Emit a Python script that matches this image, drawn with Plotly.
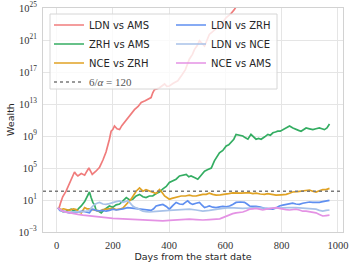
import plotly.graph_objects as go

# ---------------- data (days, log10 wealth) ----------------
LDN_AMS_DAYS = [5, 10, 14, 22, 34, 45, 55, 64, 70, 76, 88, 100, 108, 115, 121, 127, 140, 153, 165, 176, 188, 194, 200, 206, 215, 224, 232, 241, 260, 277, 290, 301, 315, 336, 342, 348, 365, 384, 392, 401, 415, 431, 445, 458, 472, 483, 490, 500, 508, 517, 526, 535, 543, 560, 579, 590, 603, 620, 632, 645, 660]
LDN_AMS_LOG = [0, 0.1, 0.6, 1.4, 2.1, 3.0, 3.9, 4.5, 4.2, 4.0, 4.3, 4.1, 4.6, 5.0, 4.6, 4.2, 4.6, 5.1, 6.0, 7.0, 8.6, 9.6, 9.8, 10.25, 9.9, 9.8, 10.3, 10.7, 11.5, 12.3, 12.7, 13.2, 13.4, 13.8, 14.4, 14.8, 15.0, 15.5, 15.2, 15.25, 15.6, 15.9, 16.6, 17.3, 18.6, 19.2, 19.8, 20.3, 20.9, 20.5, 20.25, 21.0, 21.7, 22.2, 22.75, 23.2, 23.8, 24.3, 24.8, 25.6, 26.2]

ZRH_AMS_DAYS = [5, 15, 25, 34, 45, 52, 60, 70, 80, 88, 100, 110, 117, 123, 129, 135, 141, 150, 159, 170, 180, 188, 200, 212, 224, 236, 248, 260, 271, 283, 295, 307, 318, 330, 342, 354, 366, 378, 390, 401, 413, 425, 437, 449, 461, 470, 478, 490, 502, 514, 526, 538, 550, 561, 570, 579, 591, 603, 612, 620, 630, 638, 650, 662, 670, 680, 691, 700, 709, 718, 727, 740, 751, 760, 769, 778, 786, 795, 804, 816, 828, 840, 851, 860, 869, 878, 887, 899, 911, 922, 934, 943, 952, 961, 970]
ZRH_AMS_LOG = [0, -0.3, -0.5, -0.4, -0.2, -0.15, -0.3, -0.4, 0.0, 0.25, 0.8, 1.4, 2.0, 1.3, 0.7, 0.4, -0.3, -0.4, -0.6, -0.2, 0.0, 0.25, 0.1, 0.4, 0.5, 0.9, 1.3, 1.0, 1.1, 1.5, 1.7, 1.4, 1.3, 1.5, 1.5, 1.8, 2.0, 2.4, 2.7, 3.2, 3.4, 3.6, 4.0, 4.1, 4.2, 3.9, 4.0, 3.8, 3.6, 4.1, 4.6, 4.8, 5.0, 5.9, 6.4, 6.9, 7.2, 7.75, 7.9, 8.2, 8.6, 9.2, 9.1, 9.0, 8.8, 8.6, 9.2, 8.9, 8.6, 8.7, 8.6, 8.9, 9.2, 9.1, 9.4, 9.5, 9.6, 9.6, 9.8, 10.0, 10.25, 10.0, 9.8, 9.7, 9.6, 9.8, 10.0, 9.9, 9.8, 9.9, 10.0, 9.9, 9.8, 10.0, 10.5]

NCE_ZRH_DAYS = [5, 15, 25, 34, 45, 60, 70, 76, 88, 100, 108, 117, 130, 142, 153, 165, 176, 188, 200, 212, 224, 236, 248, 256, 265, 274, 283, 295, 301, 307, 318, 330, 342, 354, 366, 372, 384, 392, 401, 410, 419, 431, 443, 458, 472, 484, 496, 508, 520, 532, 543, 555, 567, 582, 597, 612, 626, 641, 656, 671, 686, 698, 709, 724, 739, 750, 765, 780, 798, 816, 828, 839, 857, 875, 887, 899, 910, 922, 934, 946, 958, 970]
NCE_ZRH_LOG = [0, -0.2, -0.1, -0.15, -0.3, -0.1, -0.2, -0.4, -0.6, 0.05, -0.1, -0.1, -0.2, -0.3, -0.4, -0.2, -0.15, -0.1, -0.05, -0.2, -0.15, 0.0, 0.45, 0.8, 1.1, 1.6, 2.1, 2.5, 2.3, 2.1, 2.3, 2.1, 2.0, 1.8, 2.3, 2.1, 1.5, 1.3, 1.1, 1.2, 1.3, 1.4, 1.5, 1.5, 1.6, 1.5, 1.5, 1.6, 1.7, 1.7, 1.85, 1.7, 1.6, 1.65, 1.7, 1.8, 1.9, 1.85, 1.85, 1.9, 1.9, 1.8, 1.85, 1.75, 1.7, 1.8, 1.7, 1.6, 1.65, 1.7, 1.85, 2.0, 2.05, 2.1, 2.2, 2.25, 2.1, 2.0, 2.15, 2.3, 2.3, 2.45]

LDN_ZRH_DAYS = [5, 12, 22, 34, 46, 58, 70, 82, 94, 105, 117, 123, 129, 141, 153, 165, 176, 188, 200, 212, 224, 236, 253, 268, 283, 295, 307, 320, 336, 345, 354, 366, 378, 390, 401, 413, 425, 437, 449, 458, 466, 475, 484, 496, 508, 517, 526, 535, 543, 555, 567, 580, 591, 603, 615, 626, 638, 653, 668, 677, 686, 697, 709, 724, 739, 754, 769, 780, 792, 804, 816, 828, 839, 851, 863, 875, 887, 899, 910, 922, 934, 946, 958, 970]
LDN_ZRH_LOG = [0, -0.3, -0.4, -0.5, -0.6, -0.5, -0.55, -0.45, -0.4, -0.5, -0.6, -0.3, -0.15, -0.3, -0.35, -0.3, -0.4, -0.3, -0.15, -0.25, -0.2, -0.1, 0.05, 0.0, -0.05, -0.1, -0.15, -0.2, -0.3, -0.1, 0.25, 0.35, 0.45, 0.2, -0.15, 0.3, 0.7, 0.5, 0.45, 0.7, 0.9, 0.6, 0.45, 0.6, 0.7, 0.35, 0.05, 0.15, 0.25, 0.1, 0.05, 0.15, 0.2, 0.15, 0.25, 0.45, 0.7, 0.75, 0.7, 0.5, 0.25, 0.2, 0.2, 0.1, -0.05, -0.1, -0.15, 0.0, 0.25, 0.35, 0.45, 0.55, 0.6, 0.5, 0.45, 0.6, 0.7, 0.75, 0.7, 0.7, 0.7, 0.8, 0.9, 0.95]

LDN_NCE_DAYS = [5, 15, 25, 40, 55, 70, 85, 100, 115, 125, 135, 144, 153, 165, 176, 188, 200, 212, 224, 236, 248, 253, 262, 271, 280, 289, 298, 307, 318, 330, 342, 354, 378, 401, 425, 448, 472, 496, 520, 543, 567, 591, 615, 638, 662, 686, 709, 733, 757, 780, 804, 828, 851, 869, 887, 905, 922, 934, 946, 958, 970]
LDN_NCE_LOG = [0, -0.3, -0.5, -0.55, -0.5, -0.45, -0.5, -0.45, -0.35, 0.1, 0.45, 0.6, 0.7, 0.5, 0.45, 0.55, 0.7, 0.8, 0.9, 0.7, 0.85, 0.9, 0.6, 0.25, 0.05, -0.05, -0.25, -0.4, -0.45, -0.5, -0.45, -0.4, -0.35, -0.3, -0.25, -0.2, -0.15, -0.25, -0.4, -0.3, -0.15, -0.05, 0.05, 0.0, -0.05, 0.0, 0.05, 0.0, -0.05, 0.0, 0.05, 0.05, 0.05, 0.0, -0.05, -0.1, -0.15, -0.3, -0.4, -0.3, -0.25]

NCE_AMS_DAYS = [5, 12, 22, 40, 58, 76, 94, 112, 129, 150, 176, 200, 224, 248, 271, 295, 318, 340, 360, 378, 401, 425, 448, 472, 496, 520, 543, 567, 580, 591, 603, 615, 626, 638, 650, 662, 674, 686, 698, 709, 721, 733, 745, 757, 768, 780, 792, 804, 816, 828, 840, 851, 863, 875, 887, 899, 911, 922, 934, 946, 958, 970]
NCE_AMS_LOG = [0, -0.2, -0.4, -0.55, -0.7, -0.8, -0.9, -0.95, -1.0, -1.1, -1.2, -1.3, -1.35, -1.4, -1.4, -1.45, -1.5, -1.55, -1.6, -1.6, -1.55, -1.5, -1.45, -1.4, -1.45, -1.5, -1.45, -1.4, -1.35, -1.2, -1.0, -0.8, -0.7, -0.6, -0.55, -0.5, -0.35, -0.15, -0.1, -0.05, -0.15, -0.25, -0.15, -0.05, 0.0, 0.05, -0.05, -0.15, -0.2, -0.25, -0.2, -0.15, -0.25, -0.4, -0.4, -0.45, -0.5, -0.6, -0.8, -1.0, -0.95, -0.9]

THRESHOLD = 120  # 6/alpha

X_RANGE = [-48, 1018]
X_TICKS = [0, 200, 400, 600, 800, 1000]
Y_EXP_RANGE = [-3, 25]
Y_EXP_TICKS = [-3, 1, 5, 9, 13, 17, 21, 25]

# (name, days, log10 wealth, colour, legend column)
SERIES = [
    ("LDN vs AMS", LDN_AMS_DAYS, LDN_AMS_LOG, "#f07c7c", "legend"),
    ("ZRH vs AMS", ZRH_AMS_DAYS, ZRH_AMS_LOG, "#34ad62", "legend"),
    ("NCE vs ZRH", NCE_ZRH_DAYS, NCE_ZRH_LOG, "#e0a224", "legend"),
    ("LDN vs ZRH", LDN_ZRH_DAYS, LDN_ZRH_LOG, "#5f8ff0", "legend2"),
    ("LDN vs NCE", LDN_NCE_DAYS, LDN_NCE_LOG, "#a8c2e8", "legend2"),
    ("NCE vs AMS", NCE_AMS_DAYS, NCE_AMS_LOG, "#e492e4", "legend2"),
]

# ---------------- layout geometry (pixels) ----------------
W, H = 353, 267
ML, MR, MT, MB = 43, 10, 8, 35
PW, PH = W - ML - MR, H - MT - MB


def px_x(px):
    return (px - ML) / PW


def px_y(py):
    return (H - MB - py) / PH


fig = go.Figure()
for name, d, lg, col, leg in SERIES:
    fig.add_trace(go.Scatter(
        x=d, y=[10 ** v for v in lg], mode="lines", name=name,
        line=dict(color=col, width=1.7), legend=leg,
    ))

fig.add_trace(go.Scatter(
    x=X_RANGE, y=[THRESHOLD, THRESHOLD], mode="lines",
    name='<span style="font-family:Liberation Serif;font-size:11px;color:#555">6/<i>α</i> = 120</span>',
    line=dict(color="#7a7a7a", width=1.5, dash="dot"), legend="legend",
))

grid = "#e5e5e5"
frame = "#d2d2d2"
legfont = dict(family="DejaVu Sans", size=10, color="#262626")
common_leg = dict(
    orientation="v", xanchor="left", yanchor="top",
    bgcolor="rgba(0,0,0,0)", borderwidth=0, font=legfont,
    tracegroupgap=0, traceorder="normal",
)

fig.update_layout(
    width=W, height=H,
    margin=dict(l=ML, r=MR, t=MT, b=MB),
    paper_bgcolor="white", plot_bgcolor="white",
    showlegend=True,
    legend=dict(x=px_x(49), y=px_y(10.5), **common_leg),
    legend2=dict(x=px_x(171), y=px_y(10.5), **common_leg),
    xaxis=dict(
        range=X_RANGE, tickvals=X_TICKS, ticktext=[str(t) for t in X_TICKS],
        showgrid=True, gridcolor=grid, gridwidth=1, zeroline=False,
        showline=True, linecolor=frame, linewidth=1.2, mirror=True,
        ticks="", ticklabelstandoff=3, automargin=False,
        tickfont=dict(family="Liberation Serif", size=10.5, color="#333"),
        title=dict(text="Days from the start date", standoff=3,
                   font=dict(family="DejaVu Sans", size=9.5, color="#262626")),
    ),
    yaxis=dict(
        type="log", range=Y_EXP_RANGE,
        tickvals=[10.0 ** e for e in Y_EXP_TICKS],
        ticktext=["10<sup>%d</sup>" % e if e >= 0 else "10<sup>−%d</sup>" % (-e) for e in Y_EXP_TICKS],
        showgrid=True, gridcolor=grid, gridwidth=1, zeroline=False,
        showline=True, linecolor=frame, linewidth=1.2, mirror=True,
        ticks="", ticklabelstandoff=3, automargin=False,
        tickfont=dict(family="Liberation Serif", size=10.5, color="#333"),
    ),
    shapes=[dict(
        type="rect", xref="paper", yref="paper", layer="above",
        x0=px_x(50), x1=px_x(277), y0=px_y(89), y1=px_y(14),
        fillcolor="rgba(255,255,255,0.8)", line=dict(color="#d6d6d6", width=1),
    )],
    annotations=[dict(
        text="Wealth", textangle=-90, xref="paper", yref="paper",
        x=px_x(10), y=0.5, xanchor="center", yanchor="middle", showarrow=False,
        font=dict(family="DejaVu Sans", size=9.5, color="#262626"),
    )],
)

fig.write_html("out.html", config={"displayModeBar": False},
               post_script="document.body.style.margin='0';")
